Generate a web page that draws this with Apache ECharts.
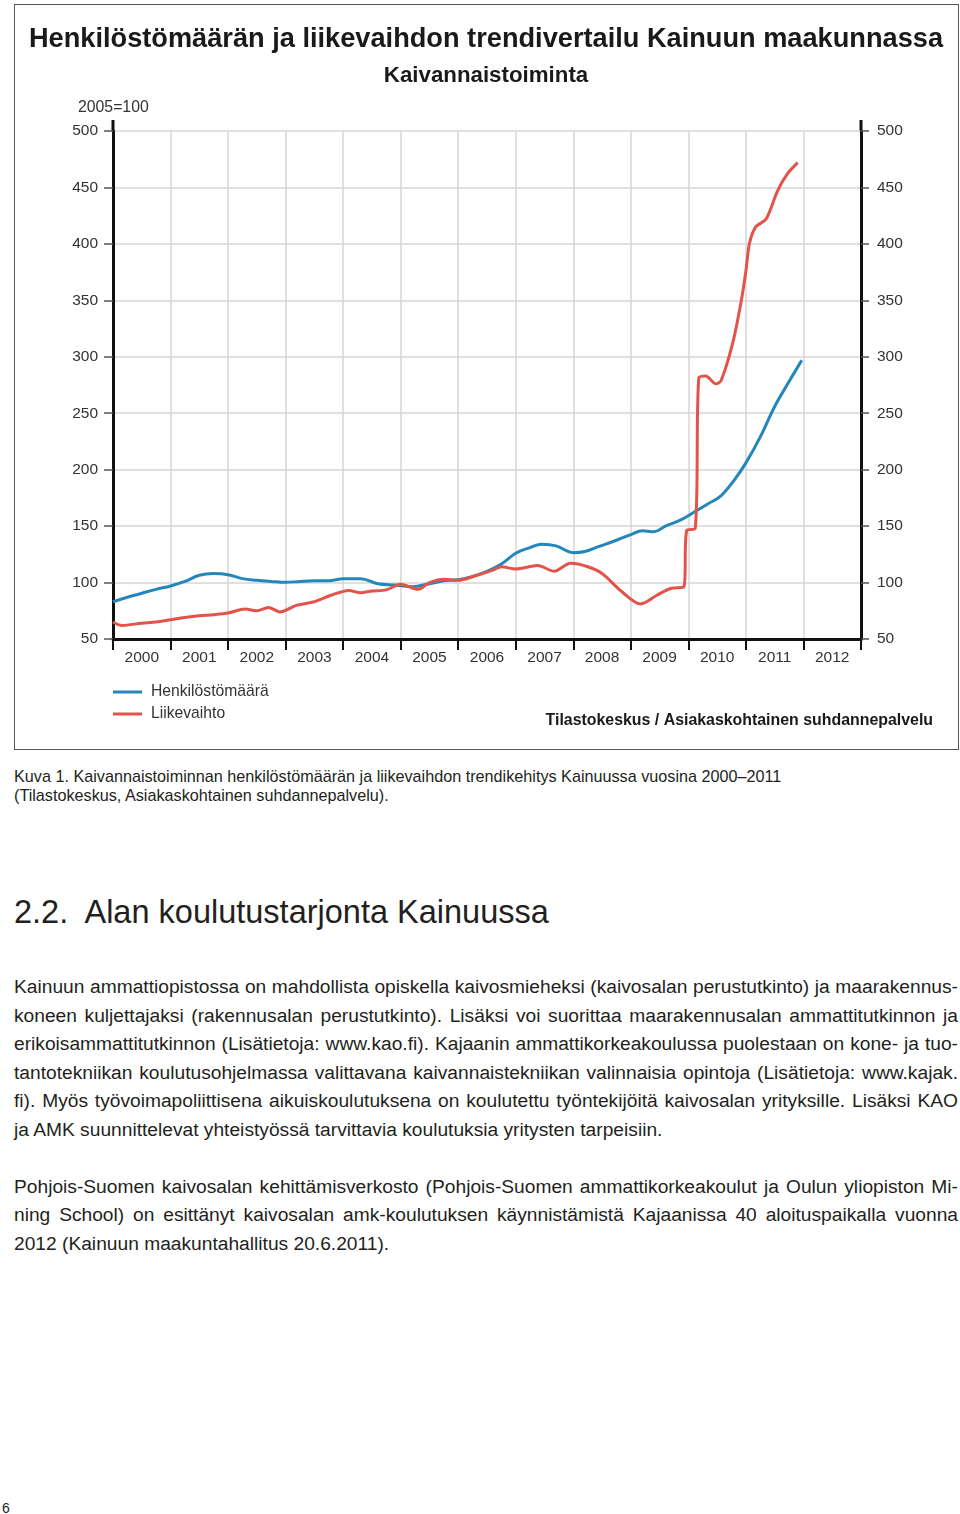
<!DOCTYPE html>
<html>
<head>
<meta charset="utf-8">
<script src="https://cdn.jsdelivr.net/npm/echarts@6/dist/echarts.min.js"></script>
<style>
  html, body { margin: 0; padding: 0; background: #fff; }
  body { width: 960px; height: 1514px; position: relative; overflow: hidden; font-family: "Liberation Sans", Arial, sans-serif; color: #231f20; }
  #frame { position: absolute; left: 14px; top: 4px; width: 945px; height: 746px; box-sizing: border-box; border: 1px solid #555; }
  #chart { position: absolute; left: 0; top: 0; width: 960px; height: 760px; }
  .ln { position: absolute; left: 14px; width: 944px; white-space: nowrap; }
  .cap { font-size: 16.2px; line-height: 18px; }
  .body { font-size: 19.2px; line-height: 22px; }
  .j { text-align: justify; text-align-last: justify; white-space: normal; }
  .h2 { font-size: 32.5px; line-height: 36px; }
</style>
</head>
<body>
<div id="chart"></div>
<div id="frame"></div>

<div class="ln cap" style="top:767px">Kuva 1. Kaivannaistoiminnan henkilöstömäärän ja liikevaihdon trendikehitys Kainuussa vuosina 2000–2011</div>
<div class="ln cap" style="top:786px">(Tilastokeskus, Asiakaskohtainen suhdannepalvelu).</div>

<div class="ln h2" style="top:894px">2.2.&nbsp; Alan koulutustarjonta Kainuussa</div>

<div class="ln body j" style="top:976px">Kainuun ammattiopistossa on mahdollista opiskella kaivosmieheksi (kaivosalan perustutkinto) ja maarakennus-</div>
<div class="ln body j" style="top:1005px">koneen kuljettajaksi (rakennusalan perustutkinto). Lisäksi voi suorittaa maarakennusalan ammattitutkinnon ja</div>
<div class="ln body j" style="top:1033px">erikoisammattitutkinnon (Lisätietoja: www.kao.fi). Kajaanin ammattikorkeakoulussa puolestaan on kone- ja tuo-</div>
<div class="ln body j" style="top:1062px">tantotekniikan koulutusohjelmassa valittavana kaivannaistekniikan valinnaisia opintoja (Lisätietoja: www.kajak.</div>
<div class="ln body j" style="top:1090px">fi). Myös työvoimapoliittisena aikuiskoulutuksena on koulutettu työntekijöitä kaivosalan yrityksille. Lisäksi KAO</div>
<div class="ln body" style="top:1119px">ja AMK suunnittelevat yhteistyössä tarvittavia koulutuksia yritysten tarpeisiin.</div>

<div class="ln body j" style="top:1176px">Pohjois-Suomen kaivosalan kehittämisverkosto (Pohjois-Suomen ammattikorkeakoulut ja Oulun yliopiston Mi-</div>
<div class="ln body j" style="top:1204px">ning School) on esittänyt kaivosalan amk-koulutuksen käynnistämistä Kajaanissa 40 aloituspaikalla vuonna</div>
<div class="ln body" style="top:1233px">2012 (Kainuun maakuntahallitus 20.6.2011).</div>

<div style="position:absolute; left:2px; top:1500px; font-size:14px; line-height:16px;">6</div>

<script>
// ---- Data ----
const yearLabels = ['2000','2001','2002','2003','2004','2005','2006','2007','2008','2009','2010','2011','2012'];

const henkiloYears = [2000.0, 2000.25, 2000.5, 2000.75, 2001.0, 2001.25, 2001.5, 2001.75, 2002.0, 2002.25, 2002.5, 2002.75, 2003.0, 2003.25, 2003.5, 2003.75, 2004.0, 2004.3, 2004.6, 2004.9, 2005.2, 2005.5, 2005.75, 2006.0, 2006.25, 2006.5, 2006.75, 2007.0, 2007.25, 2007.45, 2007.7, 2008.0, 2008.2, 2008.45, 2008.75, 2009.0, 2009.2, 2009.4, 2009.6, 2009.85, 2010.15, 2010.35, 2010.57, 2010.8, 2011.0, 2011.25, 2011.5, 2011.75, 2011.97];
const henkiloValues = [83, 87, 90.5, 94, 97, 101, 106.5, 108, 107, 103.5, 102, 101, 100.2, 101, 101.5, 101.5, 103.4, 103.4, 99, 97.8, 96.3, 99, 101.5, 102.5, 105.5, 110, 116.5, 126, 131, 134, 132.5, 126.5, 127.5, 132, 137.5, 142.5, 146, 145, 150, 155, 164, 170, 177, 191, 206, 229, 256, 278, 297];

const liikeYears = [2000.0, 2000.15, 2000.5, 2000.75, 2001.0, 2001.25, 2001.5, 2001.75, 2002.0, 2002.3, 2002.5, 2002.7, 2002.9, 2003.2, 2003.5, 2003.8, 2004.1, 2004.3, 2004.5, 2004.75, 2005.0, 2005.3, 2005.5, 2005.75, 2006.0, 2006.3, 2006.6, 2006.75, 2007.0, 2007.38, 2007.67, 2007.95, 2008.25, 2008.5, 2008.82, 2009.17, 2009.46, 2009.7, 2009.92, 2009.97, 2010.12, 2010.18, 2010.3, 2010.48, 2010.57, 2010.77, 2010.91, 2011.0, 2011.06, 2011.17, 2011.35, 2011.55, 2011.72, 2011.9];
const liikeValues = [65, 62, 64, 65, 67, 69, 70.5, 71.5, 73, 76.5, 75, 78, 74, 80, 83, 89, 93, 91, 92.5, 93.5, 98.5, 94, 100, 103, 102, 106, 111, 114, 112, 115, 110, 117, 114, 108, 93, 81, 89, 95, 96, 146, 148, 281, 283, 276, 279, 312, 347, 376, 400, 415, 422, 447, 462, 472];

const seriesNames = ['Henkilöstömäärä', 'Liikevaihto'];
const seriesColors = ['#2387bb', '#e2534a'];

// ---- Chart ----
const FONT = '"Liberation Sans", Arial, sans-serif';
const chart = echarts.init(document.getElementById('chart'), null, { renderer: 'canvas' });

function pairs(xs, ys) { return xs.map((x, i) => [x, ys[i]]); }

const yAxisBase = {
  type: 'value', min: 50, max: 500, interval: 50,
  axisLine: { show: true, lineStyle: { color: '#111', width: 3 } },
  axisTick: { show: true, length: 9, lineStyle: { color: '#555', width: 1.5 } },
  axisLabel: { color: '#333', fontSize: 15.5, fontFamily: FONT }
};

const option = {
  animation: false,
  textStyle: { fontFamily: FONT },
  grid: { left: 113, right: 99, top: 131, bottom: 121, containLabel: false },
  legend: {
    data: seriesNames, orient: 'vertical', left: 113, top: 684,
    icon: 'rect', itemWidth: 29, itemHeight: 3, itemGap: 6, padding: 0,
    textStyle: { fontSize: 15.7, color: '#333', fontFamily: FONT, padding: [0, 0, 0, 4] }
  },
  xAxis: [
    {
      type: 'category', data: yearLabels, boundaryGap: true, position: 'bottom',
      axisLine: { show: true, lineStyle: { color: '#111', width: 3 } },
      axisTick: { show: true, interval: 0, length: 11, lineStyle: { color: '#111', width: 2 } },
      axisLabel: { interval: 0, color: '#333', fontSize: 15.5, margin: 11, fontFamily: FONT },
      splitLine: { show: true, interval: 0, lineStyle: { color: '#d6d6d6', width: 1.5 } }
    },
    { type: 'value', min: 2000, max: 2013, show: false }
  ],
  yAxis: [
    Object.assign({}, yAxisBase, {
      position: 'left',
      axisLabel: Object.assign({}, yAxisBase.axisLabel, { margin: 15 }),
      splitLine: { show: true, lineStyle: { color: '#d6d6d6', width: 1.5 } }
    }),
    Object.assign({}, yAxisBase, {
      position: 'right',
      axisTick: { show: true, length: 8, lineStyle: { color: '#555', width: 1.5 } },
      axisLabel: Object.assign({}, yAxisBase.axisLabel, { margin: 16 }),
      splitLine: { show: false }
    })
  ],
  series: [
    {
      name: seriesNames[0], type: 'line', xAxisIndex: 1, yAxisIndex: 0,
      data: pairs(henkiloYears, henkiloValues),
      showSymbol: false, smooth: 0.4,
      lineStyle: { color: seriesColors[0], width: 3 }, itemStyle: { color: seriesColors[0] }, z: 3
    },
    {
      name: seriesNames[1], type: 'line', xAxisIndex: 1, yAxisIndex: 0,
      data: pairs(liikeYears, liikeValues),
      showSymbol: false, smooth: 0.3,
      lineStyle: { color: seriesColors[1], width: 3 }, itemStyle: { color: seriesColors[1] }, z: 4
    }
  ],
  graphic: [
    { type: 'text', x: 486, y: 40, style: { text: 'Henkilöstömäärän ja liikevaihdon trendivertailu Kainuun maakunnassa', align: 'center', verticalAlign: 'middle', font: 'bold 27.2px ' + FONT, fill: '#1a1a1a' } },
    { type: 'text', x: 486, y: 76, style: { text: 'Kaivannaistoiminta', align: 'center', verticalAlign: 'middle', font: 'bold 22.3px ' + FONT, fill: '#1a1a1a' } },
    { type: 'text', x: 78, y: 108, style: { text: '2005=100', align: 'left', verticalAlign: 'middle', font: '15.8px ' + FONT, fill: '#333' } },
    { type: 'text', x: 933, y: 721, style: { text: 'Tilastokeskus / Asiakaskohtainen suhdannepalvelu', align: 'right', verticalAlign: 'middle', font: 'bold 15.9px ' + FONT, fill: '#1a1a1a' } }
  ]
};
chart.setOption(option);

// small extension of the vertical axis lines above the top of the plot
const topL = chart.convertToPixel({ xAxisIndex: 1, yAxisIndex: 0 }, [2000, 500]);
const topR = chart.convertToPixel({ xAxisIndex: 1, yAxisIndex: 0 }, [2013, 500]);
chart.setOption({
  graphic: option.graphic.concat([
    { type: 'line', shape: { x1: topL[0], y1: topL[1] - 11, x2: topL[0], y2: topL[1] }, style: { stroke: '#111', lineWidth: 3 } },
    { type: 'line', shape: { x1: topR[0], y1: topR[1] - 11, x2: topR[0], y2: topR[1] }, style: { stroke: '#111', lineWidth: 3 } }
  ])
});
</script>
</body>
</html>
